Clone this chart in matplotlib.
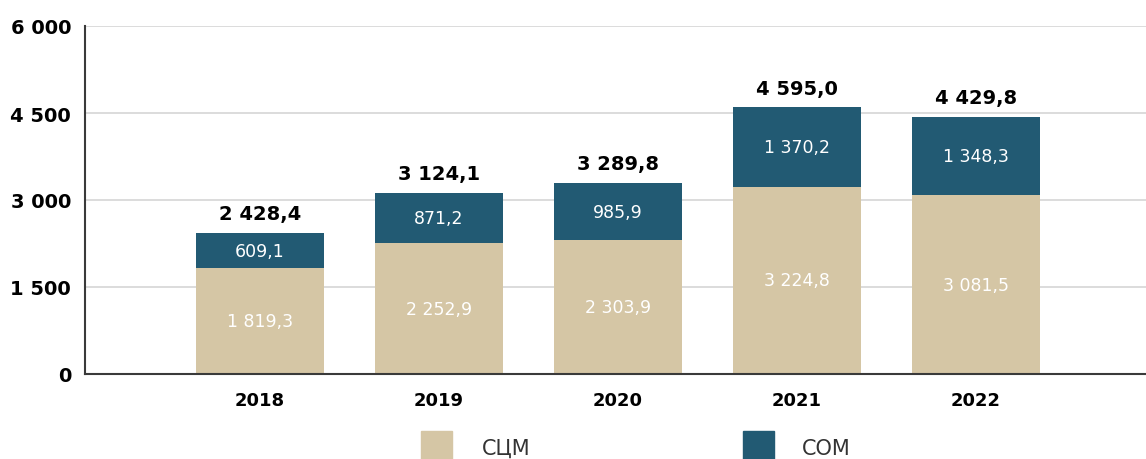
import matplotlib
matplotlib.use("Agg")
import matplotlib.pyplot as plt
from matplotlib.patches import Rectangle

years = ["2018", "2019", "2020", "2021", "2022"]
scm = [1819.3, 2252.9, 2303.9, 3224.8, 3081.5]
som = [609.1, 871.2, 985.9, 1370.2, 1348.3]
totals = [2428.4, 3124.1, 3289.8, 4595.0, 4429.8]
yticks = [0, 1500, 3000, 4500, 6000]
series_names = ["СЦМ", "СОМ"]

C_BEIGE = "#D5C6A5"
C_TEAL = "#225A73"

plt.rcParams["font.family"] = ["DejaVu Sans"]

def fmt(v, dec=1):
    s = f"{v:,.{dec}f}"
    return s.replace(",", " ").replace(".", ",")

fig = plt.figure(figsize=(11.46, 4.6), dpi=100)
ax = fig.add_axes([85/1146, 1-375/460, 1-85/1146, 348/460])

x = list(range(len(years)))
w = 0.72
ax.bar(x, scm, width=w, color=C_BEIGE, zorder=3)
ax.bar(x, som, width=w, bottom=scm, color=C_TEAL, zorder=3)

for i in x:
    ax.text(i, scm[i]/2, fmt(scm[i]), ha="center", va="center", color="white",
            fontsize=12.5, fontweight="normal", zorder=4)
    ax.text(i, scm[i] + som[i]/2, fmt(som[i]), ha="center", va="center", color="white",
            fontsize=12.5, fontweight="normal", zorder=4)
    ax.annotate(fmt(totals[i]), (i, totals[i]), xytext=(0, 7), textcoords="offset points",
                ha="center", va="bottom", fontsize=14, fontweight="bold", color="black")

ax.set_xlim(-0.978, 4.95)
ax.set_ylim(0, 6000)
ax.set_yticks(yticks)
ax.set_yticklabels([fmt(v, 0) for v in yticks], fontsize=14, fontweight="bold")
ax.set_xticks(x)
ax.set_xticklabels(years, fontsize=13, fontweight="bold")
ax.tick_params(axis="y", length=0, pad=10)
ax.tick_params(axis="x", length=0, pad=12)
ax.yaxis.grid(True, color="#d6d6d6", linewidth=1.2, zorder=0)
ax.set_axisbelow(True)
for s in ["top", "right"]:
    ax.spines[s].set_visible(False)
for s in ["left", "bottom"]:
    ax.spines[s].set_color("#3a3a3a")
    ax.spines[s].set_linewidth(1.5)
    ax.spines[s].set_zorder(5)

# legend
for (px, tx, col, name) in [(421, 482, C_BEIGE, series_names[0]), (743, 802, C_TEAL, series_names[1])]:
    fig.add_artist(Rectangle((px/1146, 0), 31/1146, 28/460, transform=fig.transFigure,
                             color=col))
    fig.text(tx/1146, 1-449/460, name, ha="left", va="center", fontsize=15, color="#333333")

fig.savefig("out.png", dpi=100)
